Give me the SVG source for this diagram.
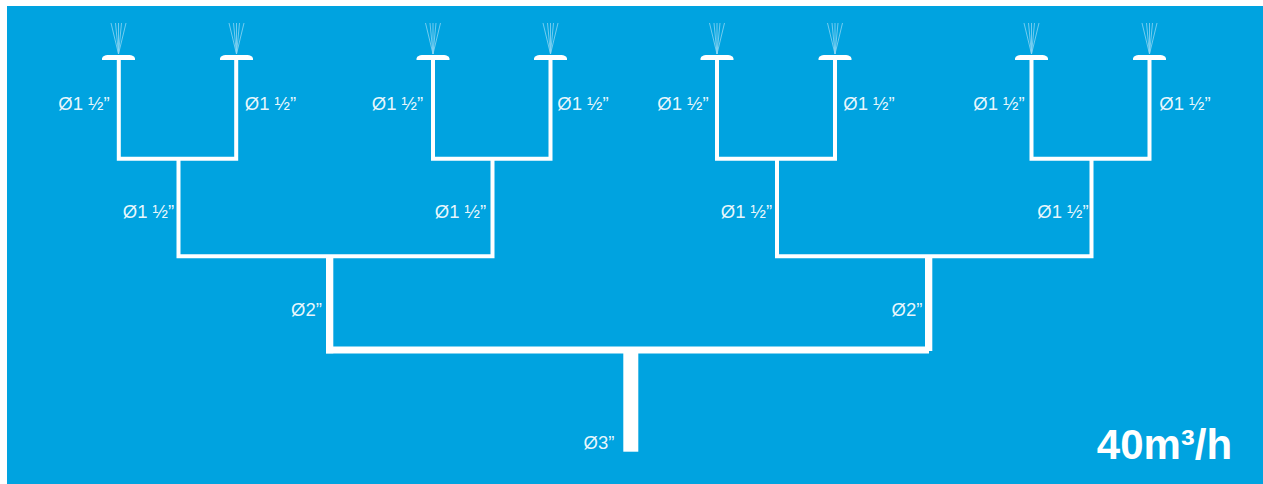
<svg xmlns="http://www.w3.org/2000/svg" width="1263" height="484" viewBox="0 0 1263 484">
<style>
.l{font-family:"Liberation Sans",Arial,sans-serif;font-size:18.500px;fill:#fff;fill-opacity:.92;text-anchor:middle}
.p{fill:none;stroke:#fff;stroke-width:4;stroke-linecap:butt;stroke-linejoin:miter}
.s{fill:none;stroke:#8fd6f2;stroke-width:.8}
.h{fill:#fff}
</style>
<defs>
<g id="sprinkler">
<path class="s" d="M0 31L-7.500 0M0 31L-3 0M0 31L0 0M0 31L3 0M0 31L7.500 0"/>
<path class="h" d="M-16.500 37L-16.500 35.500Q-16.500 33.500-13.500 32.500Q-13 32-11 32L11 32Q13 32 13.500 32.500Q16.500 33.500 16.500 35.500L16.500 37Z"/>
</g>
</defs>
<rect width="1263" height="484" fill="#fff"/>
<rect x="7" y="6" width="1256" height="478" fill="#00a3e0"/>
<g id="connectors">
<path class="p" d="M118.800 60V158.700H236.200V60"/>
<path class="p" d="M433 60V158.700H550.500V60"/>
<path class="p" d="M717 60V158.700H835V60"/>
<path class="p" d="M1031.500 60V158.700H1149.500V60"/>
<path class="p" d="M178.500 158.700V256.300H492.500V158.700"/>
<path class="p" d="M777 158.700V256.300H1091.500V158.700"/>
<rect class="h" x="326" y="256" width="7.300" height="97.300"/>
<rect class="h" x="925" y="256" width="7.300" height="95"/>
<rect class="h" x="326" y="346.500" width="603" height="7"/>
<rect class="h" x="623.300" y="350" width="15" height="101.700"/>
</g>
<g id="sprinkler-1"><use href="#sprinkler" x="118.500" y="23"/></g>
<g id="sprinkler-2"><use href="#sprinkler" x="236.500" y="23"/></g>
<g id="sprinkler-3"><use href="#sprinkler" x="433" y="23"/></g>
<g id="sprinkler-4"><use href="#sprinkler" x="550.500" y="23"/></g>
<g id="sprinkler-5"><use href="#sprinkler" x="717" y="23"/></g>
<g id="sprinkler-6"><use href="#sprinkler" x="835" y="23"/></g>
<g id="sprinkler-7"><use href="#sprinkler" x="1031.500" y="23"/></g>
<g id="sprinkler-8"><use href="#sprinkler" x="1149.500" y="23"/></g>
<g id="labels">
<text class="l" x="84" y="110">Ø1 ½”</text>
<text class="l" x="270.500" y="110">Ø1 ½”</text>
<text class="l" x="397.500" y="110">Ø1 ½”</text>
<text class="l" x="583" y="110">Ø1 ½”</text>
<text class="l" x="683" y="110">Ø1 ½”</text>
<text class="l" x="869" y="110">Ø1 ½”</text>
<text class="l" x="999" y="110">Ø1 ½”</text>
<text class="l" x="1185" y="110">Ø1 ½”</text>
<text class="l" x="148.500" y="218">Ø1 ½”</text>
<text class="l" x="460.500" y="218">Ø1 ½”</text>
<text class="l" x="746.500" y="218">Ø1 ½”</text>
<text class="l" x="1063" y="218">Ø1 ½”</text>
<text class="l" x="306.500" y="316">Ø2”</text>
<text class="l" x="907" y="316">Ø2”</text>
<text class="l" x="599" y="449">Ø3”</text>
<text x="1164.500" y="459" font-family="'Liberation Sans',Arial,sans-serif" font-size="42" font-weight="700" fill="#fff" text-anchor="middle">40m³/h</text>
</g>
</svg>
